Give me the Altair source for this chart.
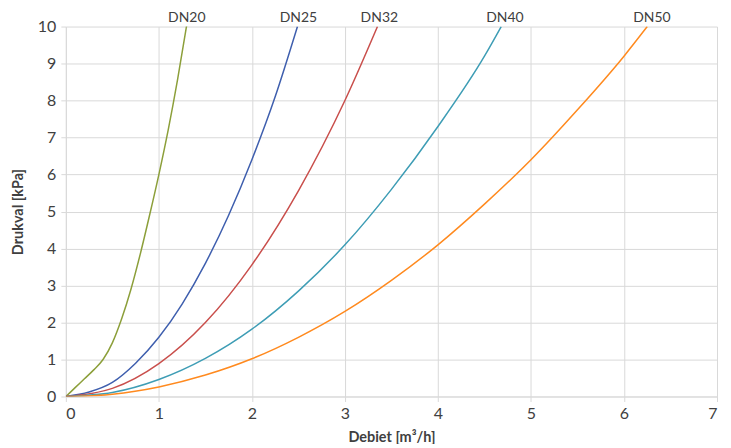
import altair as alt
import pandas as pd

dn20_x = [0, 0.1, 0.2, 0.3, 0.4, 0.5, 0.6, 0.7, 0.8, 0.9, 1.0, 1.1, 1.2, 1.3]
dn20_y = [0, 0.24, 0.48, 0.72, 1.0, 1.45, 2.1, 2.9, 3.85, 4.9, 6.0, 7.2, 8.55, 10.05]

dn25_x = [0, 0.25, 0.5, 0.75, 1.0, 1.25, 1.5, 1.75, 2.0, 2.25, 2.49]
dn25_y = [0, 0.12, 0.38, 0.9, 1.6, 2.5, 3.6, 4.9, 6.4, 8.1, 10.0]

dn32_x = [0, 0.5, 1.0, 1.5, 2.0, 2.5, 3.0, 3.35]
dn32_y = [0, 0.22, 0.89, 2.0, 3.56, 5.56, 8.0, 10.0]

dn40_x = [0, 0.5, 1.0, 1.5, 2.0, 2.5, 3.0, 3.5, 4.0, 4.5, 4.68]
dn40_y = [0, 0.11, 0.46, 1.03, 1.82, 2.85, 4.1, 5.6, 7.3, 9.2, 10.0]

dn50_x = [0, 0.5, 1.0, 1.5, 2.0, 2.5, 3.0, 3.5, 4.0, 4.5, 5.0, 5.5, 6.0, 6.25]
dn50_y = [0, 0.064, 0.26, 0.58, 1.02, 1.6, 2.3, 3.14, 4.1, 5.2, 6.4, 7.75, 9.2, 10.0]

series = ["DN20", "DN25", "DN32", "DN40", "DN50"]
colors = ["#8C9F3A", "#3F5FAE", "#C94F4C", "#3E9DB5", "#FF8A1F"]
label_x = [1.30, 2.50, 3.37, 4.72, 6.30]
label_y = [10, 10, 10, 10, 10]
x_ticks = [0, 1, 2, 3, 4, 5, 6, 7]
y_ticks = [0, 1, 2, 3, 4, 5, 6, 7, 8, 9, 10]

xs = [dn20_x, dn25_x, dn32_x, dn40_x, dn50_x]
ys = [dn20_y, dn25_y, dn32_y, dn40_y, dn50_y]

rows = []
for name, sx, sy in zip(series, xs, ys):
    for i, (a, b) in enumerate(zip(sx, sy)):
        rows.append({"serie": name, "x": a, "y": b, "i": i})
df = pd.DataFrame(rows)
labels = pd.DataFrame({"serie": series, "x": label_x, "y": label_y})

FONT = "Lato"
TXT = "#404040"
GRID = "#D9D9D9"

xscale = alt.Scale(domain=[0, 7], nice=False)
yscale = alt.Scale(domain=[0, 10], nice=False)
cscale = alt.Scale(domain=series, range=colors)

xaxis = alt.Axis(title="Debiet [m³/h]", values=x_ticks, format="d", labelOverlap=False,
                 grid=True, gridColor=GRID, domainColor=GRID, tickColor=GRID,
                 tickSize=5, labelPadding=4, titlePadding=9)
yaxis = alt.Axis(title="Drukval [kPa]", values=y_ticks, format="d", labelOverlap=False,
                 grid=True, gridColor=GRID, domainColor=GRID, tickColor=GRID,
                 tickSize=5, labelPadding=5, titlePadding=12)

lines = alt.Chart(df).mark_line(strokeWidth=1.5, interpolate="monotone", clip=True).encode(
    x=alt.X("x:Q", scale=xscale, axis=xaxis),
    y=alt.Y("y:Q", scale=yscale, axis=yaxis),
    color=alt.Color("serie:N", scale=cscale, legend=None),
    order="i:Q",
)

text = alt.Chart(labels).mark_text(
    font=FONT, fontSize=14, color=TXT, baseline="bottom", dy=-2
).encode(
    x=alt.X("x:Q", scale=xscale, axis=xaxis),
    y=alt.Y("y:Q", scale=yscale, axis=yaxis),
    text="serie:N",
)

chart = (lines + text).properties(
    width=653, height=371,
    autosize=alt.AutoSizeParams(type="none"),
    padding={"left": 58, "top": 18, "right": 6, "bottom": 47},
).configure_view(stroke=None).configure_axis(
    labelFont=FONT, labelFontSize=16, labelColor=TXT,
    titleFont=FONT, titleFontSize=14.5, titleFontWeight="bold", titleColor=TXT,
    gridWidth=1, domainWidth=1,
)

chart.save("out.html", embed_options={"renderer": "svg", "actions": False})
